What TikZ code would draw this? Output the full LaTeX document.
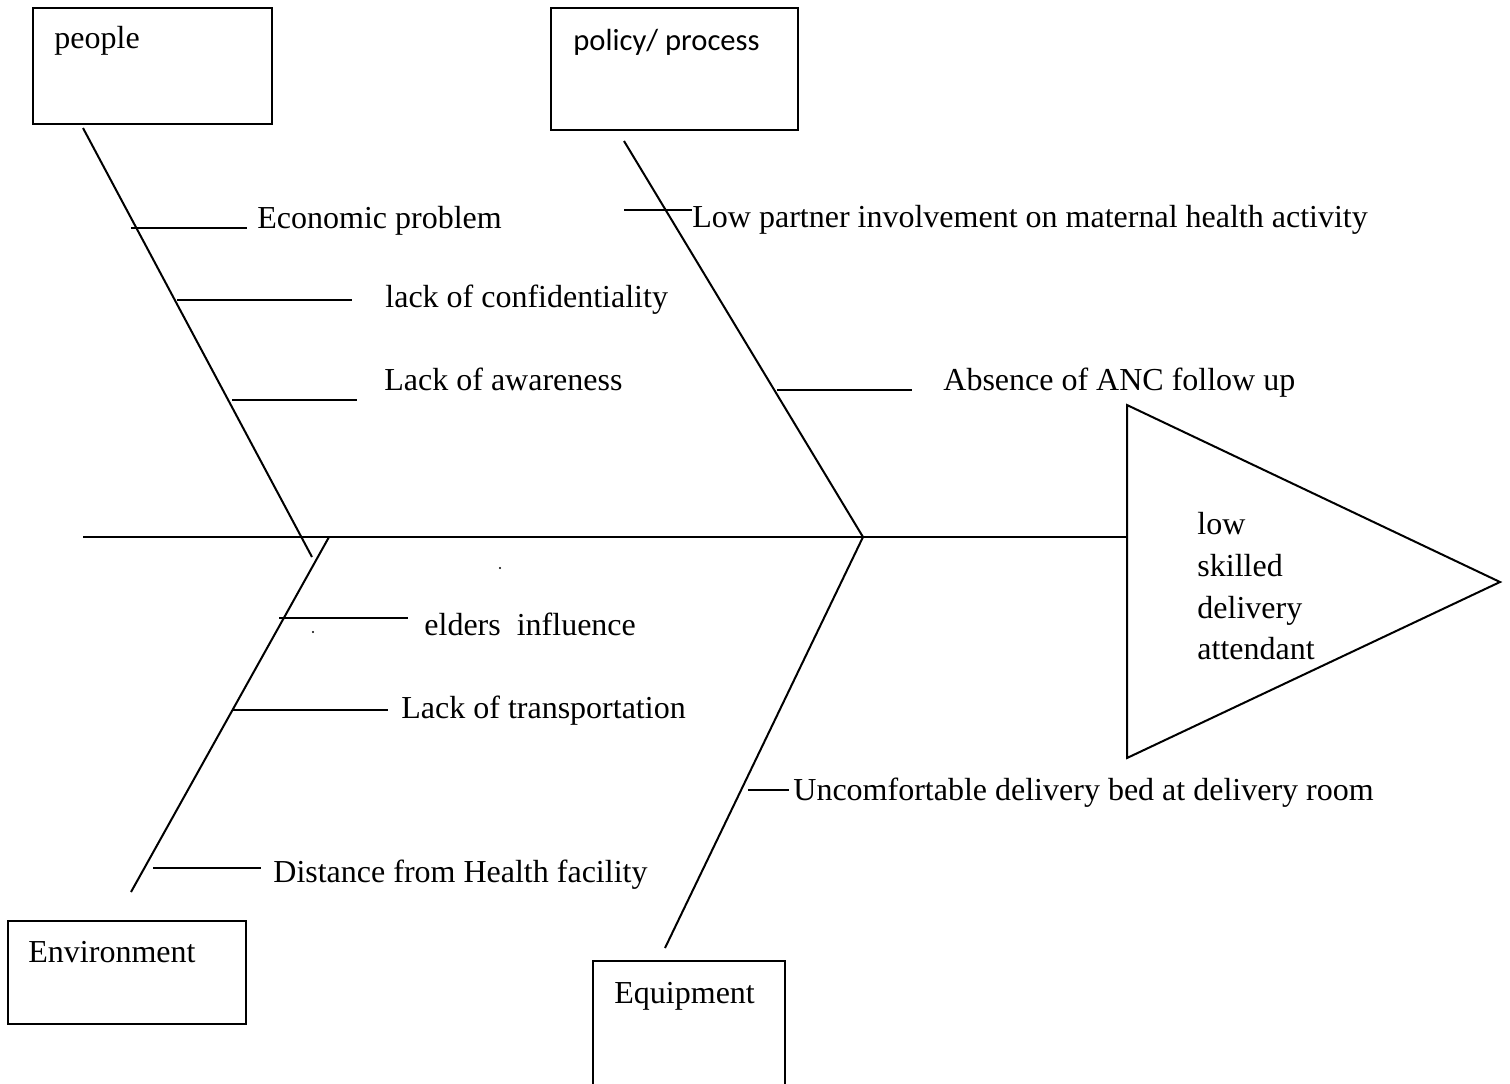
\documentclass[tikz,border=0pt]{standalone}
\usepackage{fontspec}
\setmainfont{Liberation Serif}
\newfontfamily\calib{Carlito}
\begin{document}
\begin{tikzpicture}[x=0.5pt,y=-0.5pt,
  line/.style={line width=1pt,black},
  catbox/.style={draw,line width=1pt,inner sep=0pt},
  lbl/.style={anchor=base west,inner sep=0pt,font=\fontsize{16pt}{19pt}\selectfont},
  plbl/.style={anchor=base west,inner sep=0pt,font=\calib\fontsize{15.3pt}{18pt}\selectfont}]
\useasboundingbox (0,0) rectangle (1510,1083);
\clip (0,0) rectangle (1510,1083);
% category boxes
\node[catbox,minimum width=119.5pt,minimum height=58pt] (people) at (152.5,66) {};
\node[lbl] (peopleT) at (54,48) {people};
\node[catbox,minimum width=123.5pt,minimum height=61pt] (policy) at (674.5,69) {};
\node[plbl] (policyT) at (573,50) {policy/ process};
\node[catbox,minimum width=119pt,minimum height=51.5pt] (env) at (127,972.5) {};
\node[lbl] (envT) at (28,962) {Environment};
\node[catbox,minimum width=96pt,minimum height=75pt] (equip) at (689,1036) {};
\node[lbl] (equipT) at (614,1003) {Equipment};
% spine and head
\coordinate (spineL) at (83,537);
\coordinate (triTop) at (1127,405);
\coordinate (triTip) at (1500,582);
\coordinate (triBot) at (1127,758);
\coordinate (triBack) at (1127,537);
\draw[line,line join=miter] (triTop) -- (triTip) -- (triBot) -- cycle;
\draw[line] (spineL) -- (triBack);
\node[lbl] (h1) at (1197,534) {low};
\node[lbl] (h2) at (1197,576) {skilled};
\node[lbl] (h3) at (1197,618) {delivery};
\node[lbl] (h4) at (1197,659) {attendant};
% bones
\coordinate (pA) at (83,128); \coordinate (pB) at (312,557);
\coordinate (qA) at (624,141); \coordinate (qB) at (863,537);
\coordinate (eA) at (329,537); \coordinate (eB) at (131,892);
\coordinate (mA) at (863,537); \coordinate (mB) at (665,948);
\draw[line] (pA) -- (pB);
\draw[line] (qA) -- (qB);
\draw[line] (eA) -- (eB);
\draw[line] (mA) -- (mB);
% people causes
\coordinate (c1a) at (131,228); \coordinate (c1b) at (247,228);
\draw[line] (c1a) -- (c1b);
\node[lbl] (c1) at (257,228) {Economic problem};
\coordinate (c2a) at (177,300); \coordinate (c2b) at (352,300);
\draw[line] (c2a) -- (c2b);
\node[lbl] (c2) at (385,307) {lack of confidentiality};
\coordinate (c3a) at (232,400); \coordinate (c3b) at (357,400);
\draw[line] (c3a) -- (c3b);
\node[lbl] (c3) at (384,390) {Lack of awareness};
% policy causes
\coordinate (c4a) at (624,210); \coordinate (c4b) at (692,210);
\draw[line] (c4a) -- (c4b);
\node[lbl] (c4) at (692,227) {Low partner involvement on maternal health activity};
\coordinate (c5a) at (777,390); \coordinate (c5b) at (912,390);
\draw[line] (c5a) -- (c5b);
\node[lbl] (c5) at (943,390) {Absence of ANC follow up};
% environment causes
\coordinate (c6a) at (279,618); \coordinate (c6b) at (408,618);
\draw[line] (c6a) -- (c6b);
\node[lbl] (c6) at (424,635) {elders\ \ influence};
\coordinate (c7a) at (232,710); \coordinate (c7b) at (388,710);
\draw[line] (c7a) -- (c7b);
\node[lbl] (c7) at (401,718) {Lack of transportation};
\coordinate (c8a) at (153,868); \coordinate (c8b) at (261,868);
\draw[line] (c8a) -- (c8b);
\node[lbl] (c8) at (273,882) {Distance from Health facility};
% equipment cause
\coordinate (c9a) at (748,790); \coordinate (c9b) at (789,790);
\draw[line] (c9a) -- (c9b);
\node[lbl] (c9) at (793,800) {Uncomfortable delivery bed at delivery room};
% stray dots
\fill (500,568) circle (0.6pt);
\fill (313,632) circle (0.6pt);
\end{tikzpicture}
\end{document}
